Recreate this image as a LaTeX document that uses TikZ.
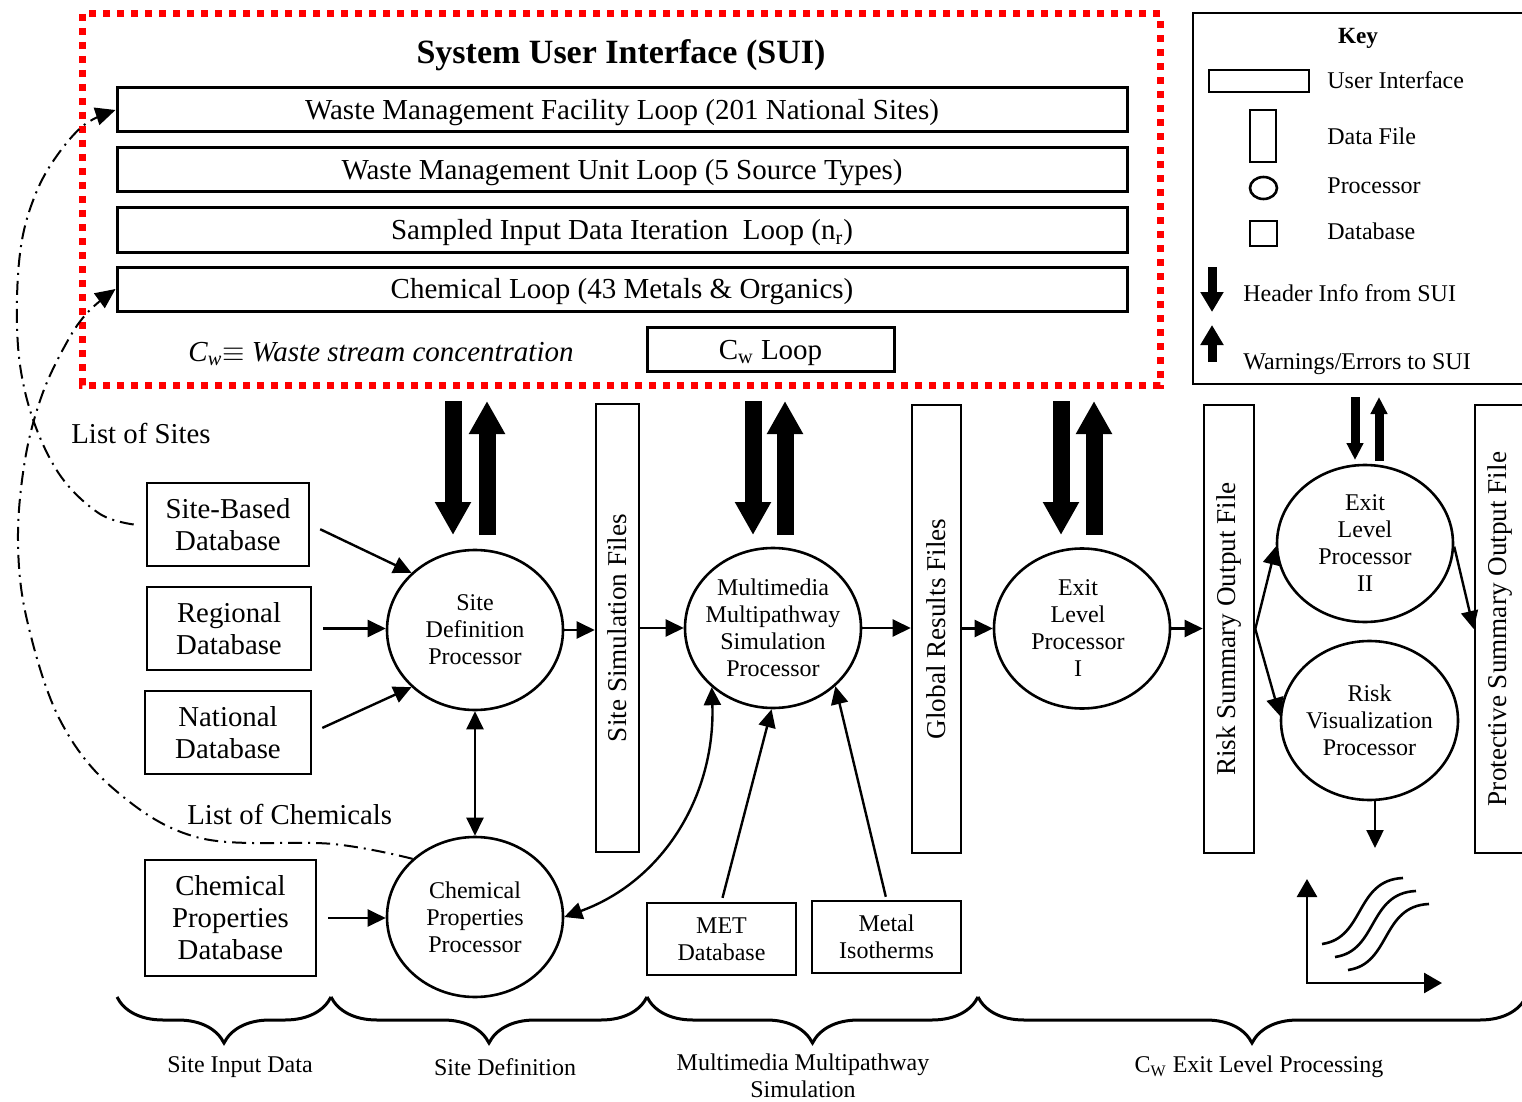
\documentclass[tikz,border=0pt]{standalone}
\usepackage{fontspec}
\setmainfont{Liberation Serif}
\usetikzlibrary{arrows.meta,shapes.geometric,decorations.pathreplacing}
\tikzset{
 bx/.style={draw, line width=1.3pt, inner sep=0pt},
 uibox/.style={bx, line width=1.5pt, minimum width=505pt, minimum height=22pt, text height=10pt, text depth=0pt, font=\fontsize{14.5}{17}\selectfont},
 procshape/.style={bx, ellipse, minimum width=88pt, minimum height=80pt},
 ptxt/.style={align=center, inner sep=0pt, font=\fontsize{12}{13.5}\selectfont},
 dbase/.style={bx, align=center, font=\fontsize{14.4}{16}\selectfont},
 sdbase/.style={bx, align=center, font=\fontsize{12}{13.5}\selectfont, minimum width=74.5pt, minimum height=36pt},
 conn/.style={line width=1.2pt, -{Triangle[length=9pt,width=8.5pt]}},
 bconn/.style={line width=1.2pt, {Triangle[length=9pt,width=8.5pt]}-{Triangle[length=9pt,width=8.5pt]}},
 ddconn/.style={line width=1pt, dash pattern=on 7pt off 3pt on 1pt off 3pt, -{Triangle[length=10pt,width=9pt]}},
 hdr/.style={line width=8.5pt, -{Triangle[length=16.5pt,width=17pt]}},
 shdr/.style={line width=4.5pt, -{Triangle[length=8.5pt,width=8pt]}},
 khdr/.style={line width=4.5pt, -{Triangle[length=10pt,width=11pt]}},
 lbl/.style={font=\fontsize{14.4}{16}\selectfont, inner sep=0pt},
 flbl/.style={rotate=90, font=\fontsize{13.6}{15}\selectfont, inner sep=0pt},
 keytxt/.style={font=\fontsize{12}{14}\selectfont, anchor=west, inner sep=0pt, text height=8pt, text depth=0pt},
 brc/.style={decorate, decoration={brace, mirror, amplitude=23pt}, line width=1.5pt},
 btxt/.style={font=\fontsize{12}{13.5}\selectfont, align=center, inner sep=0pt},
}
\begin{document}
\begin{tikzpicture}[x=0.5pt,y=0.5pt]
\useasboundingbox (0,0) rectangle (1522,-1102);
\clip (0,0) rectangle (1522,-1102);
\fill[white] (0,0) rectangle (1522,-1102);

% ---------- SUI ----------
\draw[red, line width=3.5pt, dash pattern=on 3.5pt off 3.5pt] (82,-14) rectangle (1160,-385);
\node[font=\bfseries\fontsize{17}{20}\selectfont] (title) at (621,-55) {System User Interface (SUI)};
\node[uibox] (l1) at (622,-110) {Waste Management Facility Loop (201 National Sites)};
\node[uibox] (l2) at (622,-170) {Waste Management Unit Loop (5 Source Types)};
\node[uibox] (l3) at (622,-230) {Sampled Input Data Iteration\ \ Loop (n\textsubscript{r})};
\node[uibox] (l4) at (622,-289) {Chemical Loop (43 Metals \& Organics)};
\node[uibox, minimum width=123.5pt] (cwl) at (770.5,-349) {C\textsubscript{w} Loop};
\node[font=\itshape\fontsize{14.5}{17}\selectfont, inner sep=0pt, text height=10pt, text depth=0pt] (cwdef) at (381,-351) {C\textsubscript{w}$\equiv$ Waste stream concentration};

% ---------- Key ----------
\draw[line width=1.3pt] (1193,-13) rectangle (1530,-384);
\node[font=\bfseries\fontsize{11.6}{14}\selectfont, text height=8pt, text depth=0pt, inner sep=0pt] (key) at (1358,-36) {Key};
\draw[line width=1.3pt] (1209,-70) rectangle (1309,-92);
\draw[line width=1.3pt] (1250,-110) rectangle (1276,-162);
\draw[line width=1.3pt] (1263.5,-188) ellipse (13.5 and 11);
\draw[line width=1.3pt] (1250,-221) rectangle (1277,-246);
\node[keytxt] (k1) at (1327,-81) {User Interface};
\node[keytxt] (k2) at (1327,-137) {Data File};
\node[keytxt] (k3) at (1327,-185) {Processor};
\node[keytxt] (k4) at (1327,-232) {Database};
\coordinate (kda) at (1212,-267); \coordinate (kdb) at (1212,-312);
\coordinate (kua) at (1212,-362); \coordinate (kub) at (1212,-325);
\draw[khdr] (kda) -- (kdb);
\draw[khdr] (kua) -- (kub);
\node[keytxt] (k5) at (1243,-293) {Header Info from SUI};
\node[keytxt] (k6) at (1243,-361) {Warnings/Errors to SUI};

% ---------- databases ----------
\node[dbase, minimum width=81pt, minimum height=41.5pt] (sbd) at (228,-524.5) {Site-Based\\Database};
\node[dbase, minimum width=82pt, minimum height=41.5pt] (rdb) at (229,-628.5) {Regional\\Database};
\node[dbase, minimum width=83pt, minimum height=41.5pt] (ndb) at (228,-732.5) {National\\Database};
\node[dbase, minimum width=85.5pt, minimum height=58pt] (cpd) at (230.5,-918) {Chemical\\Properties\\Database};
\node[sdbase] (met) at (721.5,-939) {MET\\Database};
\node[sdbase] (iso) at (886.5,-937) {Metal\\Isotherms};

% ---------- processors ----------
\node[procshape] (sdp) at (475,-630) {};
\node[ptxt] at (sdp) {Site\\Definition\\Processor};
\node[procshape] (mmsp) at (773,-628) {};
\node[ptxt] at (mmsp) {Multimedia\\Multipathway\\Simulation\\Processor};
\node[procshape] (elp1) at (1082,-628.5) {};
\node[ptxt] at ([xshift=-2pt]elp1.center) {Exit\\Level\\Processor\\I};
\node[procshape, minimum height=78.5pt] (elp2) at (1365,-543.5) {};
\node[ptxt] at (elp2) {Exit\\Level\\Processor\\II};
\node[procshape, minimum width=88.5pt, minimum height=79.5pt] (rvp) at (1369.5,-720.5) {};
\node[ptxt] at (rvp) {Risk\\Visualization\\Processor};
\node[procshape] (cpp) at (475,-917) {};
\node[ptxt] at (cpp) {Chemical\\Properties\\Processor};

% ---------- data files ----------
\node[bx, minimum width=21.5pt, minimum height=224pt] (ssf) at (617.5,-628) {};
\node[flbl] at (ssf) {Site Simulation Files};
\node[bx, minimum width=24.5pt, minimum height=224pt] (grf) at (936.5,-629) {};
\node[flbl] at (grf) {Global Results Files};
\node[bx, minimum width=25pt, minimum height=224pt] (rsf) at (1229,-629) {};
\node[flbl] at (rsf) {Risk Summary Output File};
\node[bx, minimum width=25pt, minimum height=224pt] (psf) at (1500,-629) {};
\node[flbl] at (psf) {Protective Summary Output File};

% ---------- header / warning arrows ----------
\coordinate (h1a) at (453,-401); \coordinate (h1b) at (453,-535);
\coordinate (w1a) at (487,-535); \coordinate (w1b) at (487,-401);
\coordinate (h2a) at (753,-401); \coordinate (h2b) at (753,-535);
\coordinate (w2a) at (785,-535); \coordinate (w2b) at (785,-401);
\coordinate (h3a) at (1061,-401); \coordinate (h3b) at (1061,-535);
\coordinate (w3a) at (1094,-535); \coordinate (w3b) at (1094,-401);
\coordinate (h4a) at (1355,-397); \coordinate (h4b) at (1355,-460);
\coordinate (w4a) at (1379,-461); \coordinate (w4b) at (1379,-397);
\draw[hdr] (h1a) -- (h1b); \draw[hdr] (w1a) -- (w1b);
\draw[hdr] (h2a) -- (h2b); \draw[hdr] (w2a) -- (w2b);
\draw[hdr] (h3a) -- (h3b); \draw[hdr] (w3a) -- (w3b);
\draw[shdr] (h4a) -- (h4b); \draw[shdr] (w4a) -- (w4b);

% ---------- connectors ----------
\draw[conn, shorten <=5.5pt] (sbd.east) -- (sdp.138);
\draw[conn, shorten <=5.5pt] (rdb.east) -- (rdb.east -| sdp.west);
\draw[conn, shorten <=5.5pt] (ndb.east) -- (sdp.222);
\draw[conn, shorten <=5.5pt] (cpd.east) -- (cpd.east -| cpp.west);
\draw[conn] (sdp.east) -- (sdp.east -| ssf.west);
\draw[conn] (mmsp.west -| ssf.east) -- (mmsp.west);
\draw[conn] (mmsp.east) -- (mmsp.east -| grf.west);
\draw[conn] (elp1.west -| grf.east) -- (elp1.west);
\draw[conn] (elp1.east) -- (elp1.east -| rsf.west);
\draw[conn] (rsf.east) -- (elp2.182);
\draw[conn] (rsf.east) -- (rvp.177);
\draw[conn] (elp2.358) -- (psf.west);
\coordinate (rvpout) at (1375,-848);
\draw[conn] (rvpout |- rvp.south) -- (rvpout);
\draw[bconn] (sdp.south) -- (cpp.north);
\draw[bconn] (cpp.east) to[out=20,in=-88] (mmsp.224);
\draw[conn, shorten <=2pt] (met.north) -- (mmsp.269);
\draw[conn, shorten <=1.5pt] (iso.north) -- (mmsp.-43);

% ---------- dash-dot feedback ----------
\draw[ddconn] plot[smooth, tension=0.6] coordinates {([xshift=-6pt]sbd.west) (100,-514) (62,-478) (35,-425) (20,-365) (17,-300) (22,-240) (36,-193) (56,-157) (84,-125) (l1.west)};
\draw[ddconn] plot[smooth, tension=0.6] coordinates {(cpp.137) (333,-844) (200,-838) (115,-790) (60,-720) (27,-620) (18,-540) (25,-460) (42,-395) (67,-342) (88,-312) (l4.west)};
\node[lbl, anchor=west] (los) at (71,-433) {List of Sites};
\node[lbl, anchor=west] (loc) at (187,-814) {List of Chemicals};

% ---------- graph icon ----------
\draw[line width=1.4pt, {Triangle[length=9pt,width=10pt]}-{Triangle[length=9pt,width=10pt]}] (1307,-879) -- (1307,-983) -- (1442,-983);
\foreach \d in {0,13,26}{
  \begin{scope}[shift={(\d,-\d)}]
    \draw[line width=1.3pt] (1322,-944) .. controls (1365,-938) and (1355,-880) .. (1403,-878);
  \end{scope}
}

% ---------- braces ----------
\draw[brc] (117,-997) -- (331,-997);
\draw[brc] (331,-997) -- (647,-997);
\draw[brc] (647,-997) -- (978,-997);
\draw[brc] (978,-997) -- (1526,-997);
\node[btxt] (b1) at (240,-1067) {Site Input Data};
\node[btxt] (b2) at (505,-1067) {Site Definition};
\node[btxt] (b3) at (803,-1076) {Multimedia Multipathway\\Simulation};
\node[btxt] (b4) at (1259,-1067) {C\textsubscript{W} Exit Level Processing};
\end{tikzpicture}
\end{document}
